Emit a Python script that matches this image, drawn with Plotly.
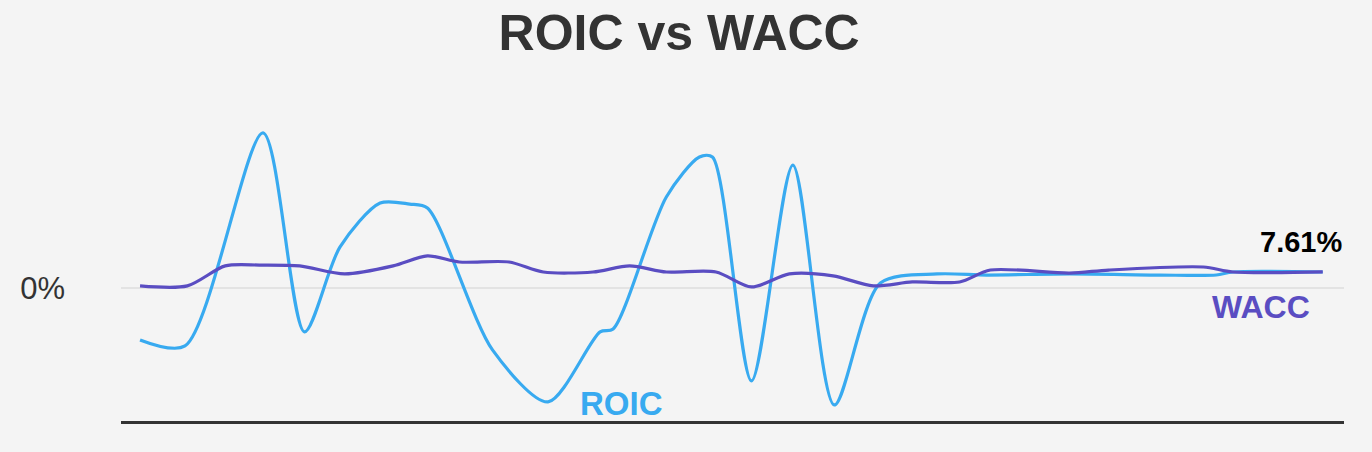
import plotly.graph_objects as go

# time position of each reading (0 = first period, 100 = last period)
roic_t = [0, 3.8, 10.4, 13.9, 16.9, 20.3, 22.8, 24.3, 29.8, 34.5, 38.9, 40.0,
          44.5, 47.3, 48.4, 51.7, 55.2, 58.7, 62.6, 67.4, 71.6, 78.6, 86.2,
          91.0, 92.4, 100]
roic = [-23.7, -26.5, 71.7, -20.0, 19.1, 39.4, 38.9, 37.1, -28.3, -52.3, -20.0,
        -18.7, 42.2, 60.6, 60.6, -42.6, 56.9, -53.7, 2.5, 6.7, 6.2, 6.7, 6.2,
        6.2, 7.6, 7.6]

wacc_t = [0, 4.0, 7.2, 10.1, 13.5, 17.3, 21.4, 24.3, 27.0, 31.2, 34.1, 38.3,
          41.4, 44.5, 48.7, 51.7, 54.9, 58.6, 62.0, 65.3, 69.3, 71.9, 78.6,
          81.9, 89.9, 92.4, 100]
wacc = [1.2, 1.2, 10.4, 10.8, 10.4, 6.7, 10.4, 15.0, 12.2, 12.2, 7.6, 7.6,
        10.4, 7.6, 7.6, 0.7, 6.7, 5.8, 1.2, 3.0, 3.0, 8.5, 7.1, 8.5, 9.9,
        7.61, 7.61]

ROIC_COLOR = "#38aaf0"
WACC_COLOR = "#5a4dc2"
BG = "#f4f4f4"
FONT = "Liberation Sans, Arial, sans-serif"

fig = go.Figure()

fig.add_trace(go.Scatter(
    x=roic_t, y=roic, mode="lines", name="ROIC",
    line=dict(color=ROIC_COLOR, width=3.2, shape="spline", smoothing=0.8),
))
fig.add_trace(go.Scatter(
    x=wacc_t, y=wacc, mode="lines", name="WACC",
    line=dict(color=WACC_COLOR, width=3.2, shape="spline", smoothing=0.8),
))

# ── Labels ────────────────────────────────────────────────────────
fig.add_annotation(
    x=40.7, y=-53, text="<b>ROIC</b>", showarrow=False,
    font=dict(family=FONT, size=33, color=ROIC_COLOR),
)
fig.add_annotation(
    x=94.8, y=-8.5, text="<b>WACC</b>", showarrow=False,
    font=dict(family=FONT, size=32, color=WACC_COLOR),
)
fig.add_annotation(
    x=1, xref="paper", xanchor="right", y=wacc[-1], yshift=30,
    text=f"<b>{wacc[-1]:.2f}%</b>", showarrow=False,
    font=dict(family=FONT, size=29, color="#000000"),
)

# ── Layout ────────────────────────────────────────────────────────
fig.update_layout(
    width=1372, height=452,
    paper_bgcolor=BG, plot_bgcolor=BG,
    margin=dict(l=121, r=28, t=100, b=31),
    showlegend=False,
    title=dict(
        text="<b>ROIC vs WACC</b>", x=0.495, xanchor="center",
        y=0.927, yref="container", yanchor="middle",
        font=dict(family=FONT, size=50, color="#333333"),
    ),
)
fig.update_xaxes(
    range=[-1.61, 101.8], showgrid=False, zeroline=False,
    showticklabels=False, ticks="",
    showline=True, linecolor="#333333", linewidth=3,
)
fig.update_yaxes(
    range=[-61.1, 86.9], tickvals=[0], ticktext=["0%"],
    showgrid=True, gridcolor="#e3e3e3", gridwidth=2, zeroline=False,
    showline=False, ticks="", ticklabelstandoff=55,
    tickfont=dict(family=FONT, size=31, color="#333333"),
)

# drop the page's default body margin so the figure fills the window
fig.write_html(
    "out.html",
    config={"displayModeBar": False},
    post_script="document.body.style.margin='0';"
                "document.body.style.background='#f4f4f4';",
)
